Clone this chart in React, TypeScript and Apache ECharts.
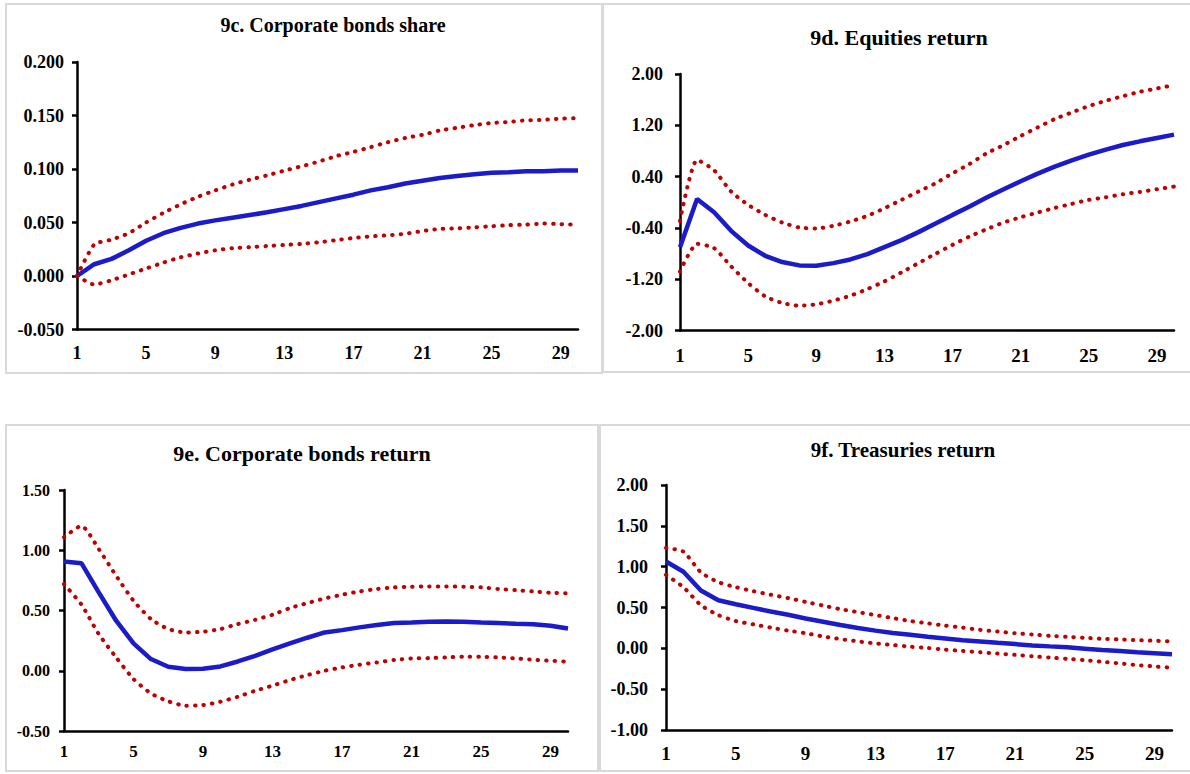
import React, { useEffect, useRef } from "react";
import * as echarts from "echarts";

const periods = ["1","2","3","4","5","6","7","8","9","10","11","12","13","14","15","16","17","18","19","20","21","22","23","24","25","26","27","28","29","30"];

// 9c. Corporate bonds share
const cbShareTicks = [-0.05, 0, 0.05, 0.1, 0.15, 0.2];
const cbShareMid = [0.0, 0.011, 0.016, 0.024, 0.033, 0.040, 0.045, 0.049, 0.052, 0.0545, 0.057, 0.0595, 0.0625, 0.0655, 0.069, 0.0725, 0.076, 0.080, 0.083, 0.0865, 0.089, 0.0915, 0.0935, 0.095, 0.0965, 0.097, 0.098, 0.098, 0.0985, 0.0985];
const cbShareUp = [0.0, 0.0295, 0.034, 0.040, 0.050, 0.059, 0.067, 0.074, 0.080, 0.0855, 0.090, 0.094, 0.0985, 0.1025, 0.107, 0.112, 0.116, 0.1205, 0.125, 0.129, 0.132, 0.136, 0.1385, 0.141, 0.143, 0.144, 0.1455, 0.146, 0.147, 0.1475];
const cbShareLo = [0.0, -0.008, -0.004, 0.0015, 0.007, 0.0125, 0.0175, 0.021, 0.024, 0.026, 0.027, 0.028, 0.029, 0.030, 0.0315, 0.0335, 0.0355, 0.037, 0.038, 0.0395, 0.042, 0.044, 0.0445, 0.0455, 0.0465, 0.0475, 0.048, 0.049, 0.0485, 0.048];

// 9d. Equities return
const eqTicks = [-2.0, -1.2, -0.4, 0.4, 1.2, 2.0];
const eqMid = [-0.70, 0.052, -0.155, -0.446, -0.674, -0.835, -0.933, -0.985, -0.99, -0.949, -0.892, -0.809, -0.70, -0.591, -0.466, -0.332, -0.197, -0.067, 0.073, 0.203, 0.327, 0.447, 0.556, 0.654, 0.742, 0.82, 0.893, 0.95, 1.002, 1.054];
const eqUp = [-0.29, 0.66, 0.50, 0.167, -0.041, -0.197, -0.316, -0.394, -0.409, -0.368, -0.30, -0.212, -0.093, 0.037, 0.167, 0.296, 0.452, 0.597, 0.763, 0.893, 1.033, 1.168, 1.298, 1.401, 1.50, 1.583, 1.655, 1.723, 1.775, 1.827];
const eqLo = [-1.08, -0.648, -0.715, -1.00, -1.26, -1.468, -1.571, -1.613, -1.592, -1.535, -1.457, -1.354, -1.234, -1.094, -0.949, -0.804, -0.664, -0.534, -0.42, -0.316, -0.233, -0.16, -0.088, -0.025, 0.037, 0.078, 0.125, 0.161, 0.203, 0.244];

// 9e. Corporate bonds return
const cbRetTicks = [-0.5, 0, 0.5, 1.0, 1.5];
const cbRetMid = [0.907, 0.893, 0.65, 0.415, 0.227, 0.097, 0.033, 0.014, 0.017, 0.036, 0.077, 0.124, 0.177, 0.227, 0.274, 0.318, 0.337, 0.36, 0.379, 0.396, 0.401, 0.407, 0.409, 0.407, 0.401, 0.396, 0.39, 0.385, 0.373, 0.351];
const cbRetUp = [1.107, 1.203, 1.01, 0.788, 0.581, 0.429, 0.346, 0.318, 0.324, 0.346, 0.387, 0.423, 0.465, 0.52, 0.562, 0.60, 0.631, 0.658, 0.678, 0.692, 0.697, 0.70, 0.70, 0.697, 0.692, 0.678, 0.669, 0.658, 0.647, 0.642];
const cbRetLo = [0.719, 0.55, 0.304, 0.111, -0.069, -0.188, -0.254, -0.29, -0.285, -0.257, -0.216, -0.166, -0.124, -0.077, -0.036, 0.0, 0.028, 0.05, 0.069, 0.089, 0.102, 0.105, 0.111, 0.116, 0.116, 0.111, 0.102, 0.091, 0.083, 0.075];

// 9f. Treasuries return
const tsyTicks = [-1.0, -0.5, 0, 0.5, 1.0, 1.5, 2.0];
const tsyMid = [1.063, 0.938, 0.709, 0.588, 0.54, 0.495, 0.451, 0.411, 0.366, 0.326, 0.286, 0.25, 0.217, 0.189, 0.165, 0.141, 0.121, 0.10, 0.085, 0.068, 0.052, 0.036, 0.024, 0.012, -0.004, -0.02, -0.032, -0.048, -0.06, -0.072];
const tsyUp = [1.23, 1.184, 0.93, 0.81, 0.749, 0.70, 0.656, 0.616, 0.568, 0.524, 0.479, 0.443, 0.407, 0.37, 0.334, 0.306, 0.278, 0.254, 0.226, 0.205, 0.185, 0.169, 0.153, 0.141, 0.129, 0.117, 0.109, 0.10, 0.093, 0.085];
const tsyLo = [0.90, 0.749, 0.528, 0.407, 0.334, 0.294, 0.254, 0.217, 0.185, 0.145, 0.113, 0.085, 0.06, 0.04, 0.02, 0.004, -0.016, -0.032, -0.048, -0.064, -0.08, -0.097, -0.113, -0.129, -0.145, -0.165, -0.185, -0.205, -0.222, -0.238];

const titles = ["9c. Corporate bonds share", "9d. Equities return", "9e. Corporate bonds return", "9f. Treasuries return"];

const FONT = "'Liberation Serif', 'Times New Roman', serif";
const BLUE = "#1b1bc9";
const RED = "#c00000";

export default function App() {
  const ref = useRef<HTMLDivElement>(null);
  useEffect(() => {
    if (!ref.current) return;
    const chart = echarts.init(ref.current, undefined, { renderer: "svg" });

    const grids = [
      { left: 77, top: 62, width: 501, height: 267.5 },
      { left: 680, top: 74, width: 494, height: 256.5 },
      { left: 64, top: 490, width: 504, height: 241 },
      { left: 666, top: 485, width: 506, height: 245 },
    ];
    const yCfg = [
      { ticks: cbShareTicks, digits: 3, size: 18, interval: 0.05 },
      { ticks: eqTicks, digits: 2, size: 18, interval: 0.4 },
      { ticks: cbRetTicks, digits: 2, size: 16, interval: 0.5 },
      { ticks: tsyTicks, digits: 2, size: 18, interval: 0.5 },
    ];
    const xCfg = [
      { size: 18, margin: 14 },
      { size: 19, margin: 15 },
      { size: 17, margin: 12 },
      { size: 19, margin: 14 },
    ];
    const yMargins = [13, 17, 14, 18];
    const panels = [
      [cbShareMid, cbShareUp, cbShareLo],
      [eqMid, eqUp, eqLo],
      [cbRetMid, cbRetUp, cbRetLo],
      [tsyMid, tsyUp, tsyLo],
    ];
    const axisLine = { show: true, onZero: false, lineStyle: { color: "#000", width: 2.5 } };

    const xAxis = grids.map((_, i) => ({
      type: "category",
      gridIndex: i,
      data: periods,
      boundaryGap: false,
      axisLine,
      axisTick: { show: false },
      splitLine: { show: false },
      axisLabel: {
        interval: 3,
        color: "#000",
        fontFamily: FONT,
        fontWeight: "bold",
        fontSize: xCfg[i].size,
        margin: xCfg[i].margin,
      },
    }));

    const yAxis = yCfg.map((c, i) => ({
      type: "value",
      gridIndex: i,
      min: c.ticks[0],
      max: c.ticks[c.ticks.length - 1],
      interval: c.interval,
      axisLine,
      axisTick: { show: true, inside: false, length: 5, lineStyle: { color: "#000", width: 2.5 }, customValues: c.ticks },
      splitLine: { show: false },
      axisLabel: {
        customValues: c.ticks,
        color: "#000",
        fontFamily: FONT,
        fontWeight: "bold",
        fontSize: c.size,
        margin: yMargins[i],
        formatter: (v: number) => v.toFixed(c.digits),
      },
    }));

    const series: any[] = [];
    panels.forEach((p, i) => {
      series.push({
        type: "line", xAxisIndex: i, yAxisIndex: i, data: p[0], symbol: "none",
        lineStyle: { color: BLUE, width: 4.5 }, z: 2,
      });
      [p[1], p[2]].forEach((d) => {
        series.push({
          type: "line", xAxisIndex: i, yAxisIndex: i, data: d, symbol: "none", smooth: 0.2,
          lineStyle: { color: RED, width: 4, type: [0.5, 8], cap: "round" }, z: 3,
        });
      });
    });

    const boxes = [
      { x: 6, y: 4, w: 596, h: 369 },
      { x: 603, y: 4, w: 590, h: 368 },
      { x: 6, y: 425, w: 592, h: 346 },
      { x: 600, y: 425, w: 593, h: 346 },
    ];
    const titlePos = [
      { x: 333, y: 25, size: 20 },
      { x: 899, y: 37, size: 22 },
      { x: 302, y: 453, size: 22 },
      { x: 903, y: 450, size: 21 },
    ];

    const graphic: any[] = [];
    boxes.forEach((b) => {
      graphic.push({
        type: "rect", silent: true, z: -1,
        shape: { x: b.x, y: b.y, width: b.w, height: b.h },
        style: { fill: "none", stroke: "#d9d9d9", lineWidth: 2 },
      });
    });
    titlePos.forEach((t, i) => {
      graphic.push({
        type: "text", x: t.x, y: t.y,
        style: {
          text: titles[i], fill: "#000", font: `bold ${t.size}px ${FONT}`,
          textAlign: "center", textVerticalAlign: "middle",
        },
      });
    });

    chart.setOption({
      animation: false,
      backgroundColor: "#fff",
      grid: grids,
      xAxis,
      yAxis,
      series,
      graphic,
    });
    return () => chart.dispose();
  }, []);
  return (
    <div
      ref={ref}
      style={{ position: "absolute", left: 0, top: 0, width: 1190, height: 774, background: "#fff" }}
    />
  );
}
